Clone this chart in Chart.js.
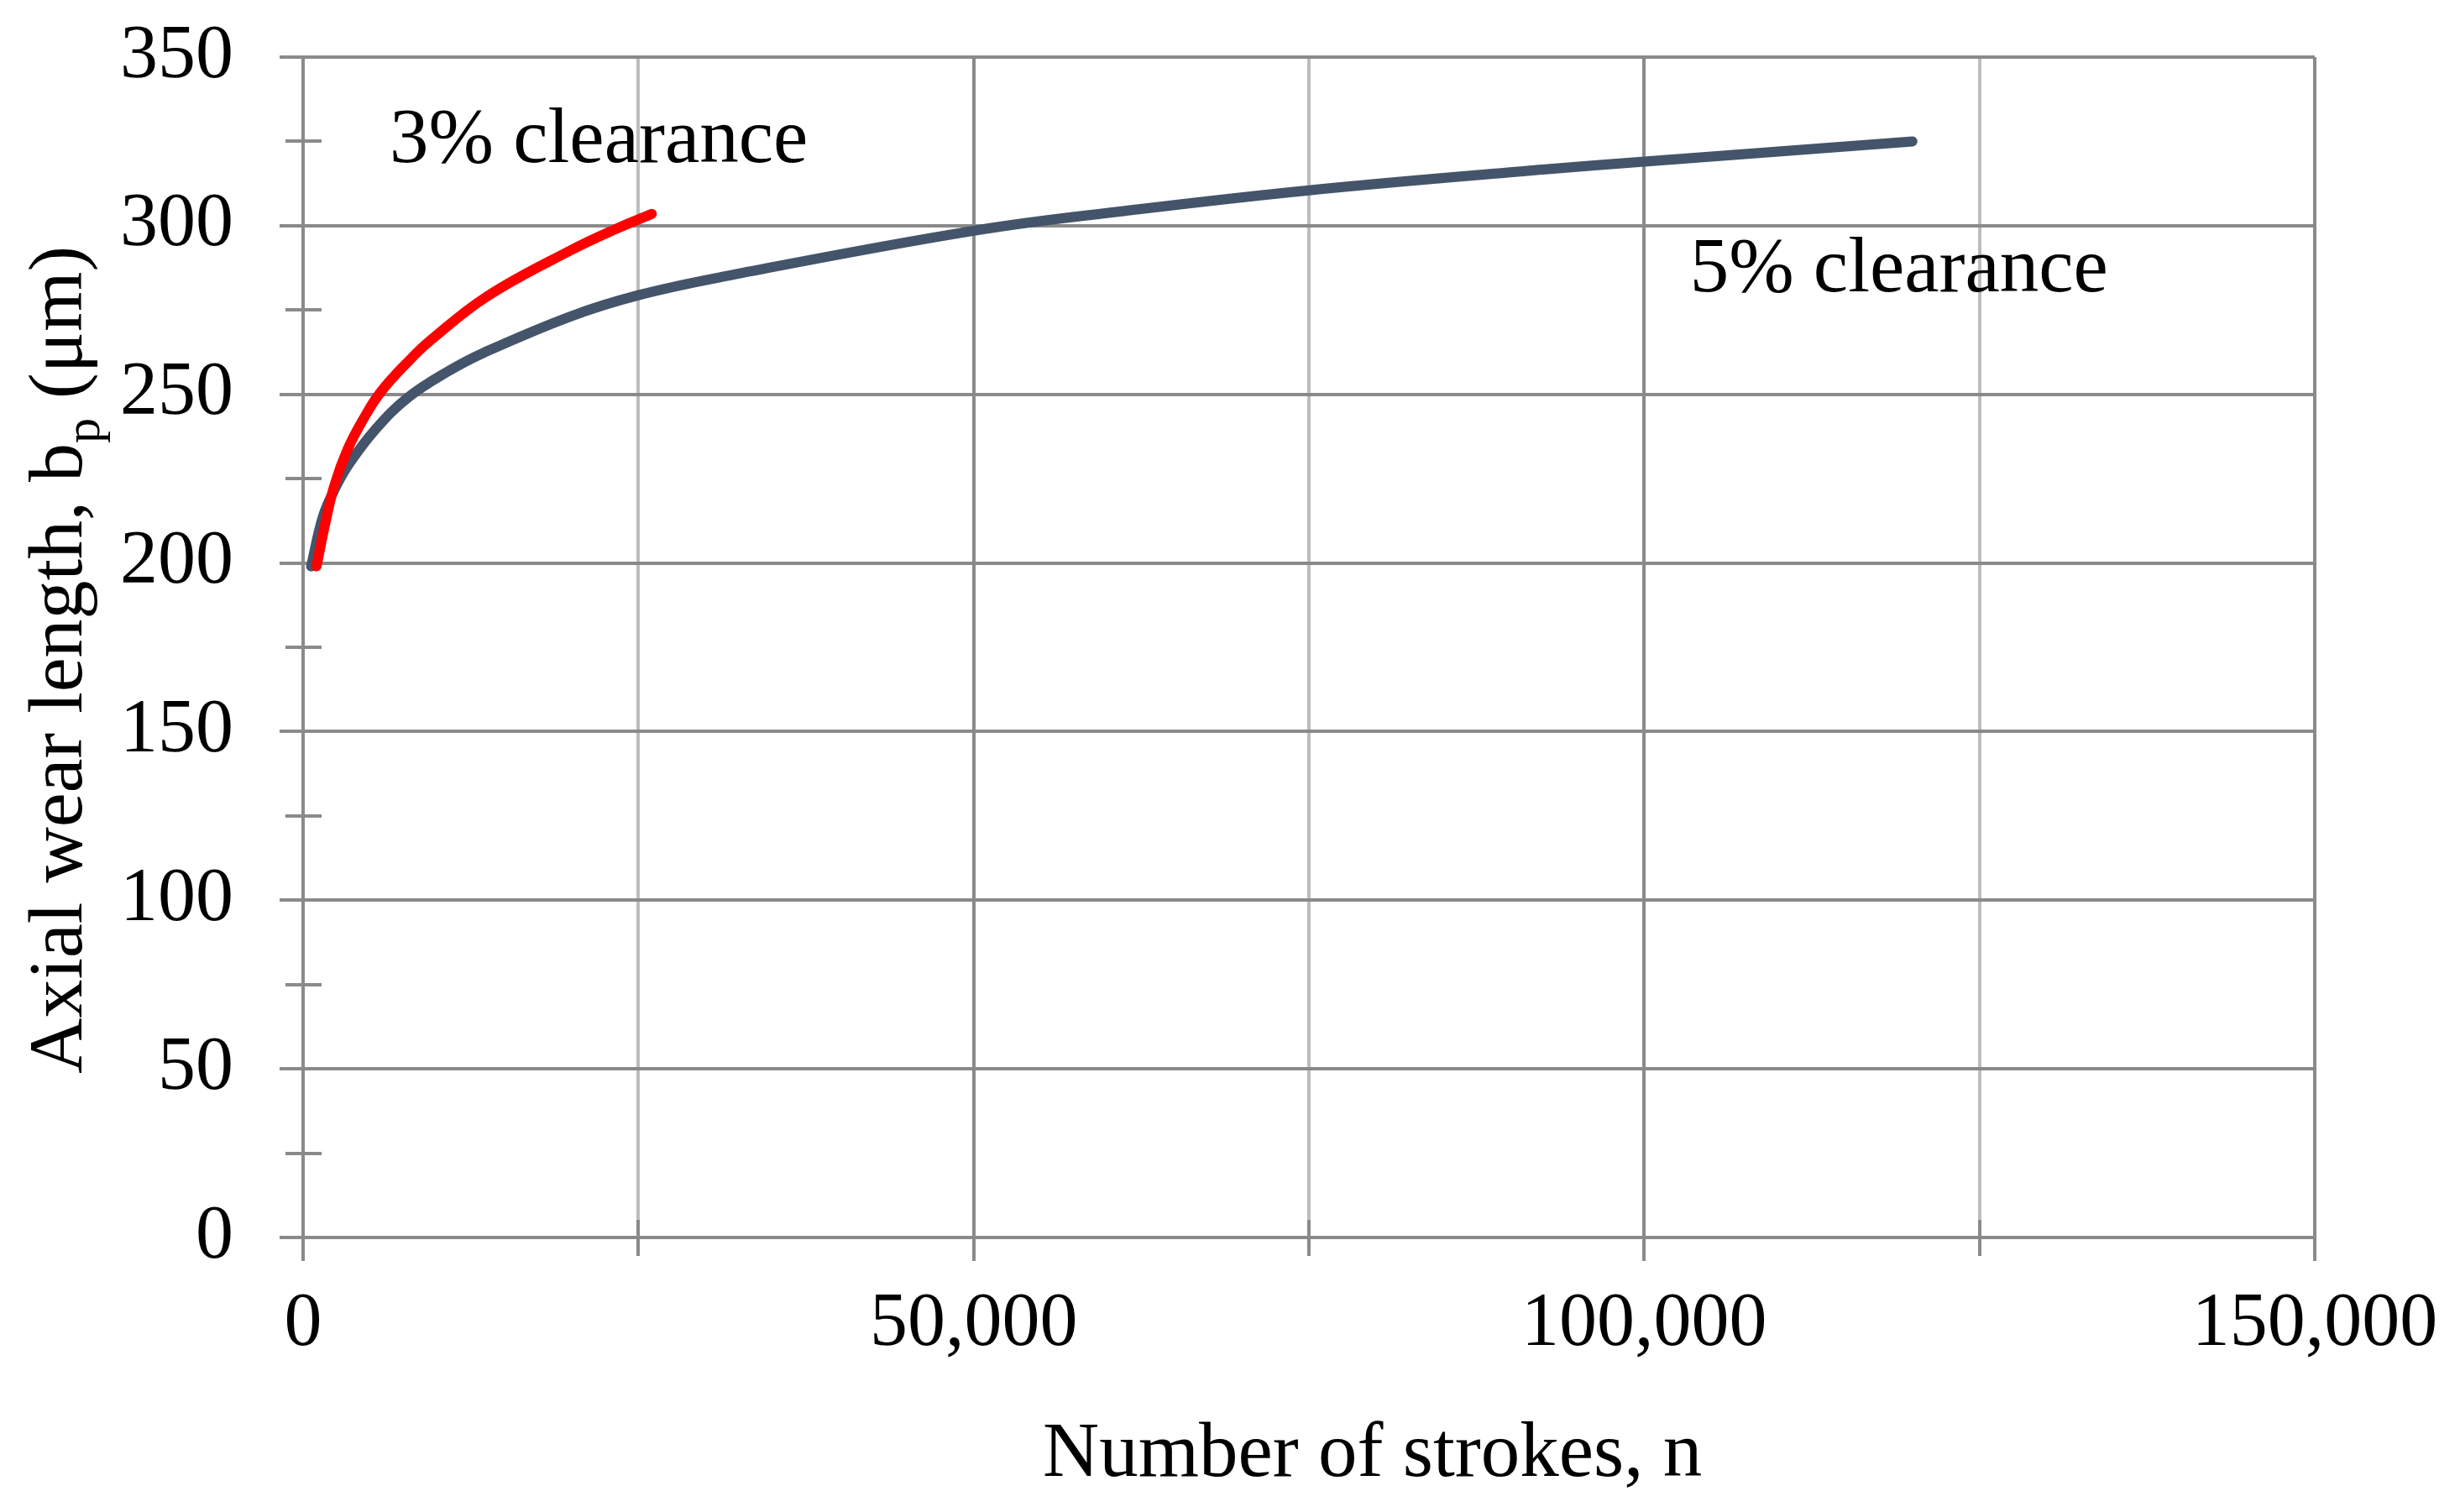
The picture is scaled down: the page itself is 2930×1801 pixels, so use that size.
<!DOCTYPE html>
<html>
<head>
<meta charset="utf-8">
<script src="https://cdn.jsdelivr.net/npm/chart.js@4.4.1/dist/chart.umd.min.js"></script>
<style>
  html, body { margin: 0; padding: 0; background: #fff; }
  canvas { display: block; }
</style>
</head>
<body>
<canvas id="wear" width="2930" height="1801"></canvas>
<script>
// values
const strokes3 = [1000, 1700, 2350, 3300, 4400, 5750, 7900, 9500, 13700, 20000, 23300, 26000];
const wear3 = [199, 212.6, 223.2, 233.5, 242, 250.5, 260, 266, 279, 292.8, 299, 303.5];
const strokes5 = [600, 1500, 2500, 3500, 5370, 7800, 10800, 13500, 20000, 25000, 31200, 50000, 61300, 75000, 92600, 100000, 120000];
const wear5 = [199, 214, 223, 229.8, 239.5, 249, 256.8, 262.4, 273.2, 279.4, 284.8, 298.5, 304.4, 310.5, 316.7, 319, 325];

const seriesNames = ["3% clearance", "5% clearance"];
const seriesColors = ["#ff0000", "#44546a"];
// where the series labels sit, in data units (n, bp)
const labelAnchors = [[6450, 319], [103400, 280.6]];

const xMajorStep = 50000;
const xMinorStep = 25000;
const yMajorStep = 50;
const yMinorStep = 25;

const FONT = "'Liberation Serif', 'Times New Roman', serif";
const DARK = "#8a8a8a";
const LIGHT = "#bdbdbd";

const toPoints = (xs, ys) => xs.map((x, i) => ({ x: x, y: ys[i] }));

const minorTicks = {
    id: "minorTicks",
    beforeDatasetsDraw(chart) {
        const { ctx, chartArea, scales } = chart;
        ctx.save();
        ctx.strokeStyle = DARK;
        ctx.lineWidth = 4;
        ctx.beginPath();
        for (let v = yMinorStep; v < scales.y.max; v += yMajorStep) {
            const py = Math.round(scales.y.getPixelForValue(v));
            ctx.moveTo(chartArea.left - 21, py);
            ctx.lineTo(chartArea.left + 22, py);
        }
        for (let v = xMinorStep; v < scales.x.max; v += xMajorStep) {
            const px = Math.round(scales.x.getPixelForValue(v));
            ctx.moveTo(px, chartArea.bottom - 21);
            ctx.lineTo(px, chartArea.bottom + 22);
        }
        ctx.stroke();
        ctx.restore();
    },
    afterDraw(chart) {
        const { ctx, scales } = chart;
        ctx.save();
        ctx.fillStyle = "#000";
        ctx.textBaseline = "alphabetic";
        ctx.textAlign = "left";

        // series labels
        ctx.font = "93px " + FONT;
        seriesNames.forEach((name, i) => {
            const px = scales.x.getPixelForValue(labelAnchors[i][0]);
            const py = scales.y.getPixelForValue(labelAnchors[i][1]);
            ctx.fillText(name, px, py);
        });

        // x axis title
        ctx.font = "93px " + FONT;
        ctx.fillText("Number of strokes, n", 1242, 1758);

        // y axis title with subscript
        ctx.translate(97, 1279);
        ctx.rotate(-Math.PI / 2);
        ctx.font = "92px " + FONT;
        let part = "Axial wear length, b";
        ctx.fillText(part, 0, 0);
        let w = ctx.measureText(part).width;
        ctx.font = "60px " + FONT;
        ctx.fillText("p", w, 21);
        w += ctx.measureText("p").width;
        ctx.font = "92px " + FONT;
        ctx.fillText(" (\u03bcm)", w, 0);
        ctx.restore();
    }
};

const lineStyle = {
    borderWidth: 12,
    showLine: true,
    pointRadius: 0,
    tension: 0.4,
    borderCapStyle: "round",
    borderJoinStyle: "round"
};

new Chart(document.getElementById("wear"), {
    type: "scatter",
    data: {
        datasets: [
            Object.assign({
                label: seriesNames[0],
                data: toPoints(strokes3, wear3),
                borderColor: seriesColors[0],
                backgroundColor: seriesColors[0]
            }, lineStyle),
            Object.assign({
                label: seriesNames[1],
                data: toPoints(strokes5, wear5),
                borderColor: seriesColors[1],
                backgroundColor: seriesColors[1]
            }, lineStyle)
        ]
    },
    options: {
        responsive: false,
        animation: false,
        devicePixelRatio: 1,
        layout: { padding: { left: 0, right: 173, top: 68, bottom: 0 } },
        plugins: {
            legend: { display: false },
            tooltip: { enabled: false }
        },
        scales: {
            x: {
                type: "linear",
                min: 0,
                max: 150000,
                afterFit: (scale) => { scale.height = 327; },
                border: { display: true, color: DARK, width: 4 },
                grid: {
                    lineWidth: 4,
                    color: (c) => (c.tick && c.tick.value % xMajorStep === 0 ? DARK : LIGHT),
                    tickColor: (c) => (c.tick && c.tick.value % xMajorStep === 0 ? DARK : "rgba(0,0,0,0)"),
                    tickWidth: 4,
                    tickLength: 28
                },
                ticks: {
                    stepSize: xMinorStep,
                    autoSkip: false,
                    maxRotation: 0,
                    padding: 22,
                    color: "#000",
                    font: { family: FONT, size: 90 },
                    callback: (v) => (v % xMajorStep === 0 ? v.toLocaleString("en-US") : "")
                }
            },
            y: {
                min: 0,
                max: 350,
                afterFit: (scale) => {
                    scale.width = 361;
                    // tick padding would otherwise push the plot top down
                    scale.paddingTop = 0;
                    scale.paddingBottom = 0;
                },
                border: { display: true, color: DARK, width: 4 },
                grid: {
                    lineWidth: 4,
                    color: (c) => (c.tick && c.tick.value % yMajorStep === 0 ? DARK : "rgba(0,0,0,0)"),
                    tickColor: (c) => (c.tick && c.tick.value % yMajorStep === 0 ? DARK : "rgba(0,0,0,0)"),
                    tickWidth: 4,
                    tickLength: 28
                },
                ticks: {
                    stepSize: yMinorStep,
                    autoSkip: false,
                    padding: 55,
                    color: "#000",
                    font: { family: FONT, size: 90 },
                    callback: (v) => (v % yMajorStep === 0 ? String(v) : "")
                }
            }
        }
    },
    plugins: [minorTicks]
});
</script>
</body>
</html>
